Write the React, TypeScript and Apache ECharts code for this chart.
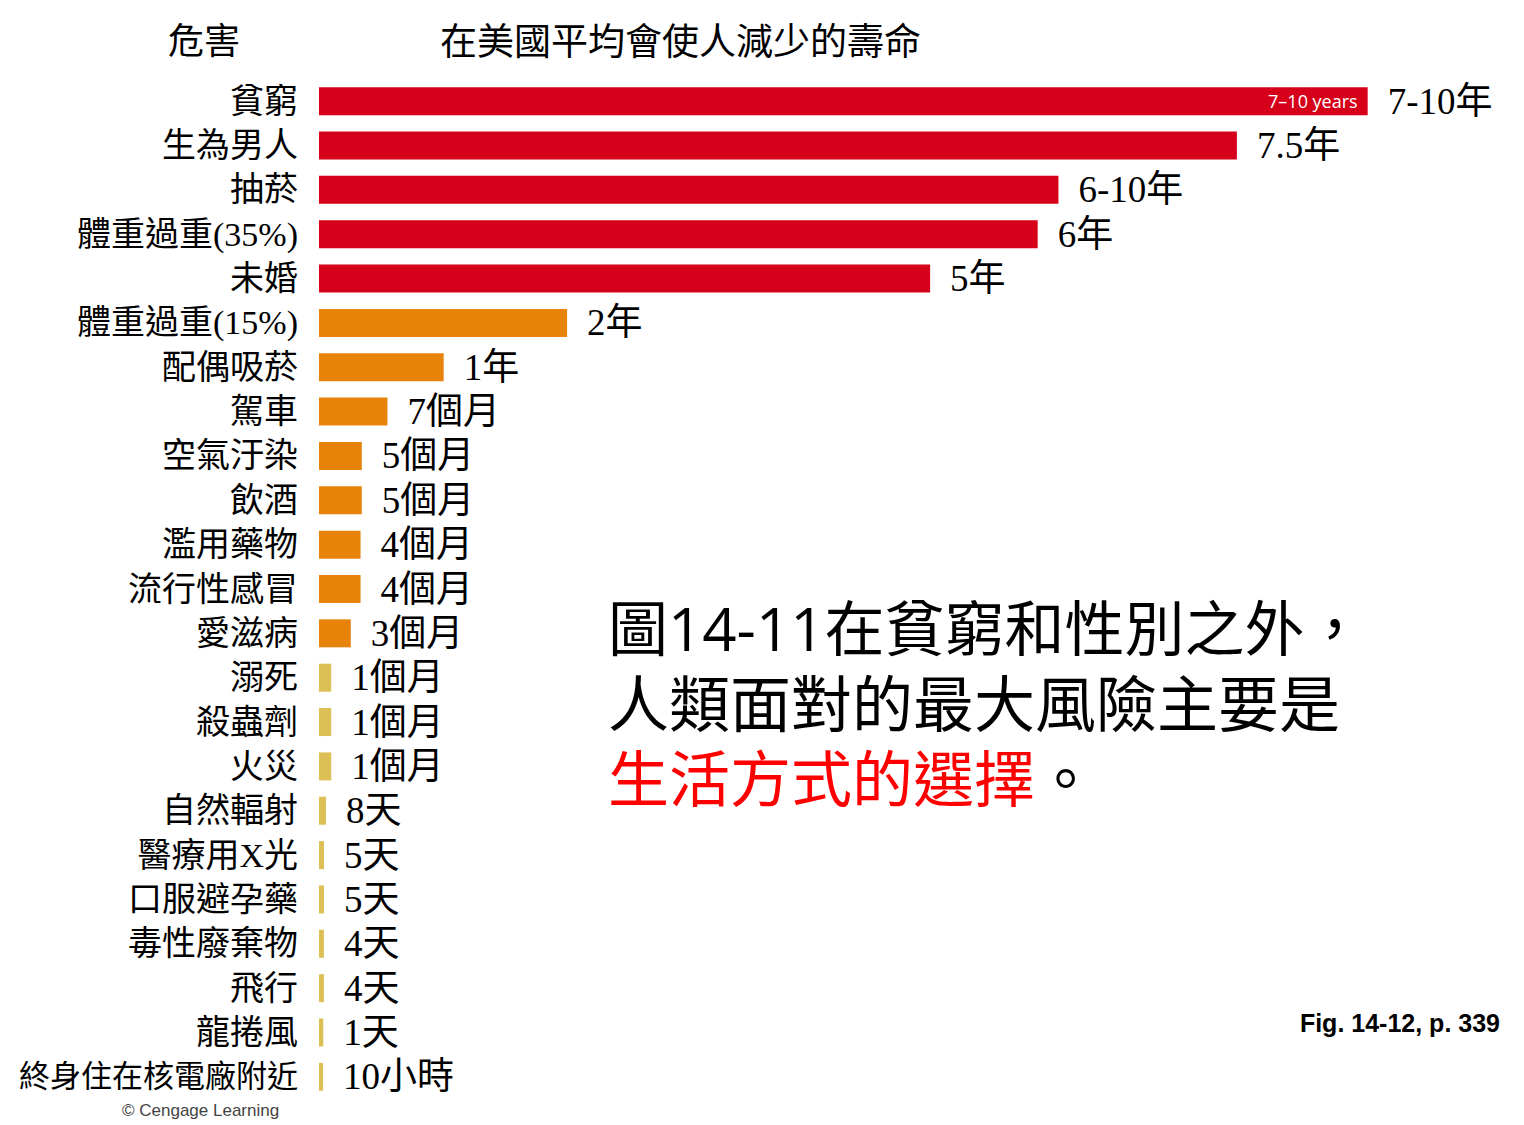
import React, { useEffect, useRef } from "react";
import * as echarts from "echarts";

const categories = [
  "貧窮", "生為男人", "抽菸", "體重過重(35%)", "未婚", "體重過重(15%)", "配偶吸菸",
  "駕車", "空氣汙染", "飲酒", "濫用藥物", "流行性感冒", "愛滋病", "溺死", "殺蟲劑",
  "火災", "自然輻射", "醫療用X光", "口服避孕藥", "毒性廢棄物", "飛行", "龍捲風",
  "終身住在核電廠附近",
];
// bar lengths, in years of life lost
const yearsLost = [
  8.58, 7.51, 6.05, 5.88, 5.0, 2.03, 1.02, 0.56, 0.35, 0.35, 0.34, 0.34, 0.26,
  0.1, 0.1, 0.1, 0.057, 0.041, 0.041, 0.04, 0.04, 0.035, 0.033,
];
const valueLabels = [
  "7-10年", "7.5年", "6-10年", "6年", "5年", "2年", "1年", "7個月", "5個月", "5個月",
  "4個月", "4個月", "3個月", "1個月", "1個月", "1個月", "8天", "5天", "5天", "4天",
  "4天", "1天", "10小時",
];
const innerNoteIndex = 0;
const innerNoteText = "7–10 years";
const headerLeft = "危害";
const headerRight = "在美國平均會使人減少的壽命";
const noteLine1 = "圖14-11在貧窮和性別之外，";
const noteLine2 = "人類面對的最大風險主要是";
const noteLine3Red = "生活方式的選擇";
const noteLine3End = "。";
const figRef = "Fig. 14-12, p. 339";
const credit = "© Cengage Learning";

const SERIF = "'Liberation Serif', 'Noto Sans CJK TC', serif";
const SANS = "'Open Sans', 'Noto Sans CJK TC', sans-serif";
const NOTE_SIZE = 61;

function barColor(v: number) {
  if (v >= 3) return "#d6001a";
  if (v >= 0.2) return "#e8830a";
  return "#dcbf55";
}

export default function App() {
  const ref = useRef<HTMLDivElement>(null);
  useEffect(() => {
    if (!ref.current) return;
    const chart = echarts.init(ref.current, undefined, { renderer: "svg" });
    chart.setOption({
      animation: false,
      backgroundColor: "#ffffff",
      grid: { left: 319, top: 79, width: 1100, height: 1020, containLabel: false },
      xAxis: { type: "value", min: 0, max: 9, show: false },
      yAxis: {
        type: "category",
        data: categories,
        inverse: true,
        axisLine: { show: false },
        axisTick: { show: false },
        splitLine: { show: false },
        axisLabel: {
          interval: 0,
          hideOverlap: false,
          margin: 21,
          color: "#000",
          fontSize: 34,
          fontFamily: SERIF,
          formatter: (v: string) => (v.length > 7 && v.indexOf("(") < 0 ? `{s|${v}}` : v),
          rich: { s: { fontSize: 31, fontFamily: SERIF, color: "#000" } },
        },
      },
      series: [
        {
          type: "bar",
          barWidth: 28,
          data: yearsLost.map((v) => ({ value: v, itemStyle: { color: barColor(v) } })),
          label: {
            show: true,
            position: "right",
            distance: 20,
            color: "#000",
            fontSize: 37,
            fontFamily: SERIF,
            formatter: (p: any) => valueLabels[p.dataIndex],
          },
        },
        {
          type: "bar",
          barWidth: 28,
          barGap: "-100%",
          silent: true,
          itemStyle: { color: "rgba(0,0,0,0)" },
          data: yearsLost.map((v, i) => (i === innerNoteIndex ? v : "-")),
          label: {
            show: true,
            position: "insideRight",
            distance: 10,
            color: "#fff",
            fontSize: 18,
            fontFamily: SANS,
            formatter: () => innerNoteText,
          },
        },
      ],
      graphic: [
        {
          type: "text",
          x: 168,
          y: 42,
          style: { text: headerLeft, fill: "#000", fontSize: 36, fontFamily: SERIF, textVerticalAlign: "middle" },
        },
        {
          type: "text",
          x: 440,
          y: 42,
          style: { text: headerRight, fill: "#000", fontSize: 37, fontFamily: SERIF, textVerticalAlign: "middle" },
        },
        {
          type: "text",
          x: 608,
          y: 628,
          style: { text: noteLine1, fill: "#000", fontSize: 60, fontFamily: SANS, textVerticalAlign: "middle" },
        },
        {
          type: "text",
          x: 608,
          y: 703,
          style: { text: noteLine2, fill: "#000", fontSize: NOTE_SIZE, fontFamily: SANS, textVerticalAlign: "middle" },
        },
        {
          type: "text",
          x: 608,
          y: 778,
          style: { text: noteLine3Red, fill: "#ff0000", fontSize: NOTE_SIZE, fontFamily: SANS, textVerticalAlign: "middle" },
        },
        {
          type: "text",
          x: 608 + noteLine3Red.length * NOTE_SIZE,
          y: 778,
          style: { text: noteLine3End, fill: "#000", fontSize: NOTE_SIZE, fontFamily: SANS, textVerticalAlign: "middle" },
        },
        {
          type: "text",
          x: 1500,
          y: 1023,
          style: {
            text: figRef,
            fill: "#000",
            fontSize: 25,
            fontWeight: "bold",
            fontFamily: "'Liberation Sans', Arial, sans-serif",
            textAlign: "right",
            textVerticalAlign: "middle",
          },
        },
        {
          type: "text",
          x: 122,
          y: 1110,
          style: {
            text: credit,
            fill: "#444",
            fontSize: 17,
            fontFamily: "'Liberation Sans', Arial, sans-serif",
            textVerticalAlign: "middle",
          },
        },
      ],
    });
    return () => chart.dispose();
  }, []);
  return (
    <div
      ref={ref}
      style={{ position: "fixed", left: 0, top: 0, width: 1524, height: 1125, background: "#fff" }}
    />
  );
}
